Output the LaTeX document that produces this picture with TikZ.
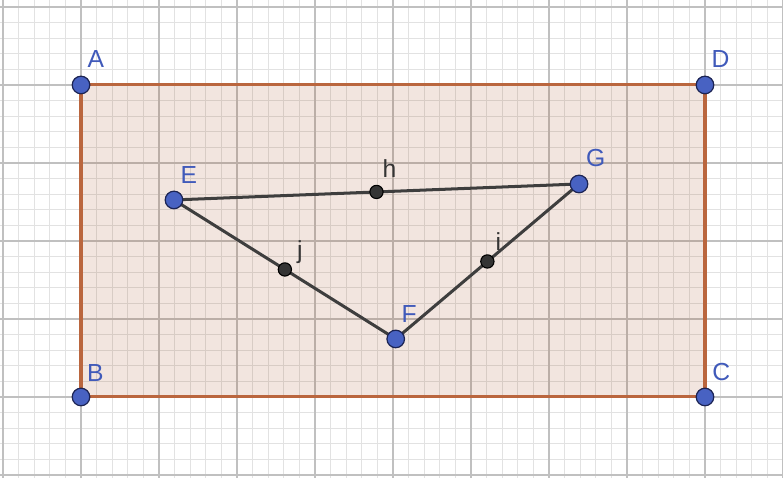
\documentclass[tikz,border=0pt]{standalone}
\usepackage{fontspec}
\setmainfont{Liberation Sans}
\usetikzlibrary{calc}
\definecolor{ptblue}{RGB}{72,98,194}
\definecolor{ptedge}{RGB}{28,36,84}
\definecolor{lblblue}{RGB}{64,90,186}
\definecolor{polybrown}{RGB}{153,51,0}
\definecolor{edgebrown}{RGB}{186,102,62}
\definecolor{minorgrid}{RGB}{226,226,226}
\definecolor{majorgrid}{RGB}{192,192,192}
\definecolor{segdark}{RGB}{62,62,62}
\definecolor{middark}{RGB}{52,52,52}
\begin{document}
\begin{tikzpicture}[x=1cm,y=1cm,
  freept/.style={circle,fill=ptblue,draw=ptedge,line width=0.45pt,inner sep=0pt,minimum size=0.225cm},
  midpt/.style={circle,fill=middark,draw=black,line width=0.4pt,inner sep=0pt,minimum size=0.17cm},
  ptlabel/.style={text=lblblue,font=\fontsize{9}{10}\selectfont,anchor=base west,inner sep=0pt},
  midlabel/.style={text=middark,font=\fontsize{9}{10}\selectfont,anchor=base west,inner sep=0pt},
  seg/.style={draw=segdark,line width=1.1pt},
  rectedge/.style={draw=edgebrown,line width=1.1pt},
  minorline/.style={draw=minorgrid,line width=0.35pt},
  majorline/.style={draw=majorgrid,line width=0.55pt}]
\useasboundingbox (-1.0385,-1.0385) rectangle (9.0,5.0897);
\fill[white] (-1.0385,-1.0385) rectangle (9.0,5.0897);
% grid
\foreach \i in {-5,...,45} \draw[minorline] (\i*0.2,-1.0385) -- (\i*0.2,5.0897);
\foreach \j in {-5,...,25} \draw[minorline] (-1.0385,\j*0.2) -- (9.0,\j*0.2);
\foreach \i in {-1,...,9} \draw[majorline] (\i,-1.0385) -- (\i,5.0897);
\foreach \j in {-1,...,5} \draw[majorline] (-1.0385,\j) -- (9.0,\j);
% coordinates
\coordinate (pA) at (0,4);
\coordinate (pB) at (0,0);
\coordinate (pC) at (8,0);
\coordinate (pD) at (8,4);
\coordinate (pE) at (1.192,2.526);
\coordinate (pF) at (4.035,0.744);
\coordinate (pG) at (6.385,2.731);
% rectangle
\fill[polybrown,fill opacity=0.125] (pA) -- (pD) -- (pC) -- (pB) -- cycle;
\draw[rectedge,line join=round] (pA) -- (pD) -- (pC) -- (pB) -- cycle;
% triangle
\draw[seg] (pE) -- (pG);
\draw[seg] (pE) -- (pF);
\draw[seg] (pF) -- (pG);
% midpoints
\node[midpt] (h) at ($(pE)!0.5!(pG)$) {};
\node[midpt] (j) at ($(pE)!0.5!(pF)$) {};
\node[midpt] (i) at ($(pF)!0.5!(pG)$) {};
% free points
\node[freept] (A) at (pA) {};
\node[freept] (B) at (pB) {};
\node[freept] (C) at (pC) {};
\node[freept] (D) at (pD) {};
\node[freept] (E) at (pE) {};
\node[freept] (F) at (pF) {};
\node[freept] (G) at (pG) {};
% labels
\node[ptlabel] (lA) at ([shift={(0.077,0.218)}]pA) {A};
\node[ptlabel] (lB) at ([shift={(0.070,0.195)}]pB) {B};
\node[ptlabel] (lC) at ([shift={(0.087,0.205)}]pC) {C};
\node[ptlabel] (lD) at ([shift={(0.077,0.228)}]pD) {D};
\node[ptlabel] (lE) at ([shift={(0.077,0.205)}]pE) {E};
\node[ptlabel] (lF) at ([shift={(0.070,0.205)}]pF) {F};
\node[ptlabel] (lG) at ([shift={(0.083,0.218)}]pG) {G};
\node[midlabel] (lh) at ([shift={(0.070,0.180)}]h.center) {h};
\node[midlabel] (lj) at ([shift={(0.150,0.140)}]j.center) {j};
\node[midlabel] (li) at ([shift={(0.100,0.140)}]i.center) {i};
\end{tikzpicture}
\end{document}
